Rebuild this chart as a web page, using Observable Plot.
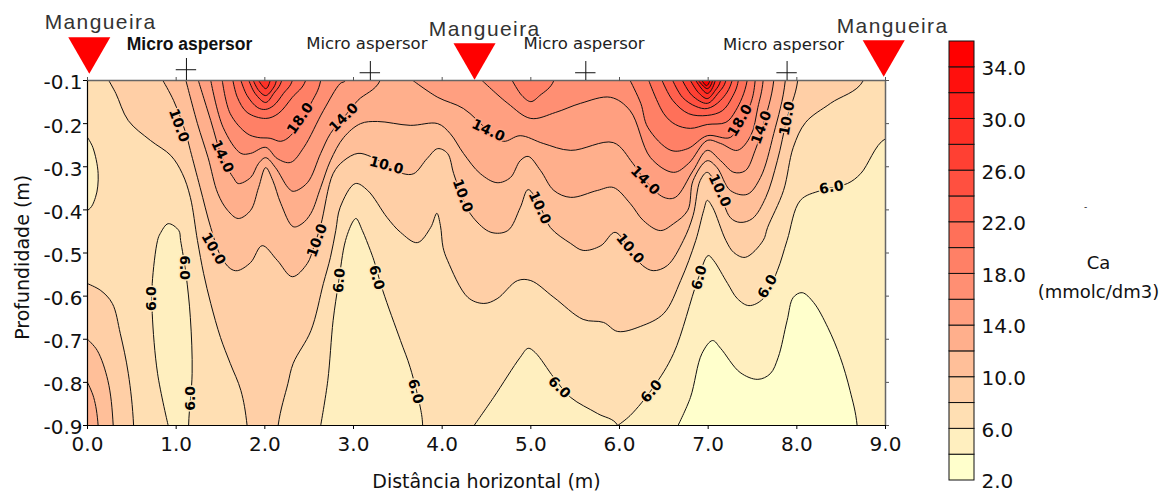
<!DOCTYPE html>
<html>
<head>
<meta charset="utf-8">
<script src="https://cdn.jsdelivr.net/npm/d3@7"></script>
<script src="https://cdn.jsdelivr.net/npm/@observablehq/plot@0.6"></script>
<style>
html,body{margin:0;padding:0;background:#fff}
#wrap{position:relative;width:1172px;height:492px;overflow:hidden}
#wrap svg{position:absolute;top:0;display:block;background:transparent}
.hose-label{letter-spacing:1.4px}
</style>
</head>
<body>
<div id="wrap"></div>
<script>
// Contour lines: [horizontal distance (m), depth (m)]
const low6Lobe=[[0,-.232],[.06,-.255],[.12,-.316],[.09,-.371],[0,-.401]];
const low6Column=[[.91,-.9],[.79,-.779],[.73,-.64],[.73,-.571],[.79,-.471],[.82,-.455],[.91,-.432],[1.03,-.448],[1.05,-.471],[1.11,-.548],[1.16,-.65],[1.18,-.779],[1.14,-.9]];
const low6Peak3=[[2.63,-.9],[2.71,-.796],[2.77,-.657],[2.83,-.571],[2.91,-.471],[3.0,-.425],[3.03,-.42],[3.1,-.448],[3.19,-.494],[3.23,-.517],[3.33,-.587],[3.53,-.703],[3.64,-.766],[3.76,-.865],[3.78,-.9]];
const low6Hill5=[[4.36,-.9],[4.58,-.835],[4.88,-.742],[4.97,-.721],[5.05,-.731],[5.26,-.789],[5.45,-.835],[5.75,-.872],[5.98,-.9]];
const low6Right=[[5.98,-.9],[6.12,-.877],[6.38,-.812],[6.61,-.733],[6.88,-.564],[7.0,-.506],[7.06,-.517],[7.22,-.571],[7.33,-.606],[7.46,-.622],[7.62,-.606],[7.78,-.541],[7.89,-.471],[8.04,-.378],[8.27,-.355],[8.57,-.339],[8.72,-.316],[9,-.235]];
const low4=[[6.66,-.9],[6.8,-.835],[6.93,-.733],[7.05,-.703],[7.14,-.721],[7.36,-.777],[7.56,-.793],[7.7,-.78],[7.79,-.742],[7.89,-.657],[7.96,-.603],[8.06,-.592],[8.19,-.615],[8.35,-.673],[8.49,-.742],[8.6,-.819],[8.68,-.9]];
const corner8=[[0,-.571],[.15,-.587],[.28,-.617],[.37,-.687],[.46,-.779],[.52,-.9]];
const corner10=[[0,-.7],[.11,-.726],[.23,-.796],[.29,-.9]];
const corner12=[[0,-.8],[.07,-.835],[.12,-.9]];
const level8=[[.24,-.1],[.32,-.13],[.46,-.193],[.71,-.239],[.94,-.274],[1.07,-.316],[1.16,-.371],[1.24,-.471],[1.31,-.548],[1.39,-.617],[1.5,-.696],[1.61,-.756],[1.73,-.819],[1.8,-.9],[1.85,-1.1],[2.1,-1.1],[2.15,-.9],[2.26,-.803],[2.32,-.756],[2.52,-.68],[2.66,-.571],[2.74,-.51],[2.8,-.448],[2.85,-.394],[3.02,-.339],[3.16,-.355],[3.38,-.418],[3.53,-.452],[3.72,-.476],[3.87,-.441],[3.94,-.408],[3.98,-.436],[4.01,-.487],[4.06,-.517],[4.29,-.603],[4.47,-.617],[4.62,-.606],[4.85,-.564],[5.0,-.564],[5.26,-.603],[5.59,-.654],[5.82,-.661],[5.98,-.682],[6.24,-.67],[6.5,-.64],[6.69,-.564],[6.86,-.471],[6.95,-.401],[6.99,-.378],[7.05,-.394],[7.2,-.471],[7.29,-.499],[7.42,-.51],[7.62,-.471],[7.67,-.441],[7.85,-.355],[7.96,-.255],[8.1,-.197],[8.38,-.153],[8.75,-.1]];
const level10=[[.85,-.1],[.97,-.146],[1.11,-.223],[1.16,-.262],[1.27,-.348],[1.39,-.441],[1.5,-.506],[1.61,-.536],[1.69,-.541],[1.84,-.522],[1.97,-.483],[2.14,-.517],[2.31,-.555],[2.48,-.524],[2.55,-.487],[2.63,-.436],[2.77,-.316],[2.89,-.286],[3.05,-.269],[3.19,-.276],[3.38,-.297],[3.56,-.316],[3.68,-.316],[3.83,-.281],[3.95,-.258],[4.06,-.269],[4.13,-.316],[4.24,-.378],[4.35,-.418],[4.55,-.452],[4.74,-.448],[4.88,-.395],[4.97,-.353],[5.11,-.395],[5.22,-.441],[5.45,-.478],[5.59,-.494],[5.79,-.483],[5.95,-.452],[6.12,-.494],[6.26,-.529],[6.38,-.541],[6.54,-.529],[6.72,-.471],[6.83,-.413],[6.91,-.332],[6.99,-.313],[7.12,-.355],[7.25,-.418],[7.36,-.429],[7.5,-.42],[7.65,-.371],[7.78,-.286],[7.89,-.188],[8.01,-.1]];
const level12=[[1.11,-.1],[1.24,-.2],[1.36,-.279],[1.47,-.362],[1.58,-.401],[1.7,-.42],[1.84,-.401],[1.93,-.348],[2.01,-.302],[2.09,-.332],[2.18,-.385],[2.32,-.439],[2.42,-.432],[2.52,-.408],[2.63,-.348],[2.74,-.286],[2.89,-.232],[3.08,-.2],[3.27,-.195],[3.64,-.204],[3.95,-.2],[4.09,-.223],[4.24,-.269],[4.43,-.316],[4.62,-.337],[4.77,-.325],[4.88,-.286],[4.97,-.276],[5.11,-.309],[5.26,-.355],[5.45,-.371],[5.75,-.355],[5.93,-.348],[6.12,-.385],[6.27,-.425],[6.46,-.448],[6.61,-.432],[6.77,-.401],[6.83,-.332],[6.99,-.286],[7.1,-.302],[7.25,-.355],[7.44,-.364],[7.59,-.325],[7.74,-.223],[7.87,-.1]];
const level14a=[[1.25,-.1],[1.39,-.193],[1.52,-.279],[1.65,-.327],[1.7,-.339],[1.84,-.325],[1.93,-.292],[2.01,-.279],[2.12,-.302],[2.26,-.348],[2.32,-.357],[2.48,-.337],[2.63,-.269],[2.74,-.223],[2.89,-.186],[3.05,-.146],[3.3,-.1]];
const level14b=[[3.67,-.1],[3.95,-.139],[4.24,-.165],[4.52,-.216],[4.69,-.241],[4.88,-.228],[5.14,-.246],[5.45,-.262],[5.93,-.244],[6.15,-.292],[6.29,-.332],[6.5,-.371],[6.63,-.371],[6.83,-.309],[6.99,-.262],[7.14,-.286],[7.29,-.313],[7.42,-.309],[7.53,-.262],[7.62,-.204],[7.74,-.1]];
const level16a=[[1.39,-.1],[1.53,-.209],[1.73,-.269],[1.84,-.269],[2.01,-.255],[2.14,-.281],[2.29,-.29],[2.44,-.255],[2.66,-.17],[2.85,-.107],[2.91,-.1]];
const level16b=[[4.45,-.1],[4.74,-.153],[5.0,-.188],[5.28,-.174],[5.56,-.153],[5.9,-.139],[6.12,-.17],[6.35,-.279],[6.61,-.313],[6.78,-.292],[6.99,-.239],[7.14,-.246],[7.33,-.262],[7.48,-.228],[7.56,-.163],[7.62,-.1]];
const level18a=[[1.52,-.1],[1.61,-.177],[1.8,-.223],[1.92,-.232],[2.06,-.234],[2.18,-.241],[2.29,-.228],[2.52,-.153],[2.63,-.1]];
const level18b=[[4.79,-.1],[4.9,-.135],[5.0,-.149],[5.1,-.135],[5.26,-.1]];
const level18c=[[6.12,-.1],[6.24,-.153],[6.32,-.209],[6.58,-.262],[6.77,-.258],[6.99,-.228],[7.25,-.232],[7.39,-.188],[7.48,-.153],[7.53,-.1]];
const level20a=[[1.64,-.1],[1.69,-.139],[1.8,-.174],[2.01,-.188],[2.15,-.177],[2.31,-.139],[2.46,-.1]];
const level22a=[[1.73,-.1],[1.8,-.135],[1.92,-.163],[2.01,-.167],[2.1,-.158],[2.21,-.13],[2.31,-.1]];
const level24a=[[1.82,-.1],[1.89,-.13],[2.01,-.151],[2.1,-.13],[2.19,-.1]];
const level26a=[[1.87,-.1],[1.93,-.123],[2.01,-.135],[2.09,-.119],[2.13,-.1]];
const level28a=[[1.93,-.1],[2.01,-.119],[2.06,-.1]];
const level20b=[[6.33,-.1],[6.5,-.177],[6.63,-.202],[6.8,-.211],[6.99,-.202],[7.2,-.197],[7.31,-.17],[7.44,-.1]];
const level22b=[[6.48,-.1],[6.6,-.146],[6.78,-.177],[6.99,-.181],[7.16,-.17],[7.27,-.139],[7.34,-.1]];
const level24b=[[6.6,-.1],[6.71,-.139],[6.86,-.16],[6.99,-.165],[7.14,-.146],[7.27,-.1]];
const level26b=[[6.71,-.1],[6.82,-.135],[6.99,-.153],[7.11,-.13],[7.2,-.1]];
const level28b=[[6.8,-.1],[6.89,-.128],[6.99,-.142],[7.08,-.123],[7.14,-.1]];
const level30b=[[6.86,-.1],[6.99,-.13],[7.08,-.1]];
const level32b=[[6.89,-.1],[6.99,-.119],[7.05,-.1]];
const level34b=[[6.93,-.1],[6.98,-.112],[7.02,-.1]];

// Colour bands
const bandLow=[2,4,6,8,10,12,14,16,18,20,22,24,26,28,30,32,34];
const bandColor=["#ffffcc","#ffefbf","#ffdfb3","#ffcfa6","#ffbf99","#ffaf8c","#ff9f80","#ff8f73","#ff8066","#ff7059","#ff604d","#ff5040","#ff4033","#ff3026","#ff201a","#ff100d","#ff0000"];
const legendTicks=[2,6,10,14,18,22,26,30,34];

// Contour labels
const labelX=[1.03,1.52,2.40,2.89,1.42,2.59,.72,1.09,1.16,3.37,4.52,4.23,5.10,6.12,6.29,7.36,7.6,7.89,7.13,2.84,3.26,3.7,5.32,6.36,6.9,7.67,8.39];
const labelY=[-.204,-.276,-.188,-.186,-.49,-.471,-.606,-.534,-.837,-.297,-.216,-.367,-.395,-.49,-.332,-.193,-.209,-.188,-.355,-.564,-.557,-.821,-.812,-.821,-.557,-.578,-.348];
const labelValue=[10,14,18,14,10,10,6,6,6,10,14,10,10,10,14,18,14,10,10,6,6,6,6,6,6,6,6];
const labelAngle=[70,65,-55,-45,60,-70,-90,90,-90,15,25,70,65,50,45,-60,-70,-80,65,-85,75,75,45,-50,-75,-60,-10];
const labelHalo={6:"#ffe7b9",10:"#ffc7a0",14:"#ffa786",18:"#ff8870"};

// Annotations above the section
const hoseX=[.02,4.365,8.98];
const hoseDepth=[-.028,-.042,-.035];
const hoseLabelX=[.147,4.48,9.08];
const hoseLabelDepth=[.0345,.018,.025];
const sprinklerX=[1.116,3.19,5.62,7.89];
const sprinklerTop=[-.049,-.056,-.056,-.056];
const sprinklerArm=[-.075,-.082,-.082,-.082];
const sprinklerLabelX=[3.15,5.6,7.85];
const sprinklerLabelDepth=[-.014,-.014,-.016];

const font="DejaVu Sans";
const topEdge=(p)=>[...p,[p[p.length-1][0],.1],[p[0][0],.1]];
const bottomEdge=(p)=>[...p,[p[p.length-1][0],-1.1],[p[0][0],-1.1]];
const leftSide=(p)=>[...p,[-.4,p[p.length-1][1]],[-.4,p[0][1]]];
const cornerEdge=(p)=>[...p,[p[p.length-1][0],-1.1],[-.4,-1.1],[-.4,p[0][1]]];
const rightCorner=(p)=>[...p,[9.4,p[p.length-1][1]],[9.4,-1.1],[p[0][0],-1.1]];
const band=(low)=>bandColor[bandLow.indexOf(low)];

const regions=[
  [leftSide(low6Lobe),4],[bottomEdge(low6Column),4],[bottomEdge(low6Peak3),4],[bottomEdge(low6Hill5),4],[rightCorner(low6Right),4],
  [bottomEdge(low4),2],
  [cornerEdge(corner8),8],[cornerEdge(corner10),10],[cornerEdge(corner12),12],
  [topEdge(level8),8],[topEdge(level10),10],[topEdge(level12),12],
  [topEdge(level14a),14],[topEdge(level14b),14],[topEdge(level16a),16],[topEdge(level16b),16],
  [topEdge(level18a),18],[topEdge(level18b),18],[topEdge(level18c),18],
  [topEdge(level20a),20],[topEdge(level22a),22],[topEdge(level24a),24],[topEdge(level26a),26],[topEdge(level28a),28],
  [topEdge(level20b),20],[topEdge(level22b),22],[topEdge(level24b),24],[topEdge(level26b),26],[topEdge(level28b),28],[topEdge(level30b),30],[topEdge(level32b),32],[topEdge(level34b),34]
];

const labels=labelX.map((x,i)=>({x,y:labelY[i],v:labelValue[i],a:labelAngle[i]}));
const hoses=hoseX.map((x,i)=>({x,y:hoseDepth[i]}));
const hoseLabels=hoseLabelX.map((x,i)=>({x,y:hoseLabelDepth[i]}));
const sprinklers=sprinklerX.map((x,i)=>({x,tip:sprinklerTop[i],arm:sprinklerArm[i]}));
const sprinklerLabels=sprinklerLabelX.map((x,i)=>({x,y:sprinklerLabelDepth[i]}));
const depthTicks=[-.9,-.8,-.7,-.6,-.5,-.4,-.3,-.2,-.1];
const distanceTicks=[0,1,2,3,4,5,6,7,8,9];

const mainPlot=Plot.plot({
  width:1172,height:492,marginLeft:87,marginRight:287,marginTop:80,marginBottom:67,
  style:{fontFamily:font,fontSize:"20px",background:"transparent",color:"#111",overflow:"visible"},
  x:{domain:[0,9]},
  y:{domain:[-.9,-.1]},
  marks:[
    Plot.frame({fill:band(6),stroke:"none"}),
    ...regions.map(([pts,low])=>Plot.line(pts,{x:d=>d[0],y:d=>d[1],fill:band(low),stroke:"#111",strokeWidth:1,curve:"catmull-rom",clip:true})),
    Plot.text(labels,{x:"x",y:"y",text:d=>d.v.toFixed(1),rotate:"a",fontFamily:font,fontWeight:"bold",fontSize:14,fill:"#000",stroke:d=>labelHalo[d.v],strokeWidth:3,paintOrder:"stroke"}),
    Plot.ruleY([-.1],{stroke:"#666",strokeWidth:1.5}),
    Plot.ruleX([9],{stroke:"#666",strokeWidth:1.5}),
    Plot.ruleY([-.9],{stroke:"#000",strokeWidth:1.2}),
    Plot.ruleX([0],{stroke:"#000",strokeWidth:1.2}),
    Plot.axisX({anchor:"bottom",ticks:distanceTicks,tickFormat:d=>d.toFixed(1),tickSize:4,tickPadding:7,label:null,stroke:"#000"}),
    Plot.axisX({anchor:"top",ticks:distanceTicks,tickFormat:()=>"",tickSize:4,label:null,stroke:"#555"}),
    Plot.axisY({anchor:"left",ticks:depthTicks,tickFormat:()=>"",tickSize:4,label:null,stroke:"#000"}),
    Plot.axisY({anchor:"left",ticks:depthTicks,tickFormat:d=>d.toFixed(1),tickSize:0,tickPadding:5,dy:2.5,label:null}),
    Plot.axisY({anchor:"right",ticks:depthTicks,tickFormat:()=>"",tickSize:3,label:null,stroke:"#555"}),
    Plot.text(["Distância horizontal (m)"],{x:[4.5],y:[-1.03],fontSize:19,fontFamily:font,fill:"#111"}),
    Plot.text(["Profundidade (m)"],{x:[-.733],y:[-.51],rotate:-90,fontSize:19,fontFamily:font,fill:"#111"}),
    Plot.text(hoseLabels,{x:"x",y:"y",text:()=>"Mangueira",fontFamily:"Liberation Sans",fontSize:21,fill:"#333",className:"hose-label"}),
    Plot.dot(hoses,{x:"x",y:"y",symbol:"triangle",rotate:180,r:15.6,fill:"#ff0000",stroke:"none"}),
    Plot.ruleX(sprinklers,{x:"x",y1:-.1,y2:"tip",stroke:"#111",strokeWidth:1}),
    Plot.ruleY(sprinklers,{y:"arm",x1:d=>d.x-.115,x2:d=>d.x+.115,stroke:"#111",strokeWidth:1}),
    Plot.text(sprinklerLabels,{x:"x",y:"y",text:()=>"Micro aspersor",fontFamily:font,fontSize:16.5,fill:"#222"}),
    Plot.text(["Micro aspersor"],{x:[1.15],y:[-.016],fontFamily:"Liberation Sans",fontWeight:"bold",fontSize:17.5,fill:"#111"})
  ]
});
mainPlot.style.left="0px";

const legendPlot=Plot.plot({
  width:223,height:492,marginLeft:0,marginRight:198,marginTop:41,marginBottom:12,
  style:{fontFamily:font,fontSize:"20px",background:"transparent",color:"#111",overflow:"visible"},
  x:{domain:[0,1],axis:null},
  y:{domain:[2,36]},
  marks:[
    Plot.rect(bandLow,{x1:0,x2:1,y1:d=>d,y2:d=>d+2,fill:d=>band(d),stroke:"#111",strokeWidth:1}),
    Plot.axisY({anchor:"right",ticks:legendTicks,tickFormat:d=>d.toFixed(1),tickSize:0,tickPadding:7,dy:1.5,label:null}),
    Plot.text(["Ca"],{x:[5.96],y:[18.8],fontSize:18,fontFamily:font,fill:"#111"}),
    Plot.text(["(mmolc/dm3)"],{x:[5.96],y:[16.6],fontSize:18,fontFamily:font,fill:"#111"}),
    Plot.text(["-"],{x:[5.44],y:[23.2],fontSize:9,fontFamily:font,fill:"#111"})
  ]
});
legendPlot.style.left="949px";

document.getElementById("wrap").append(mainPlot,legendPlot);
</script>
</body>
</html>
